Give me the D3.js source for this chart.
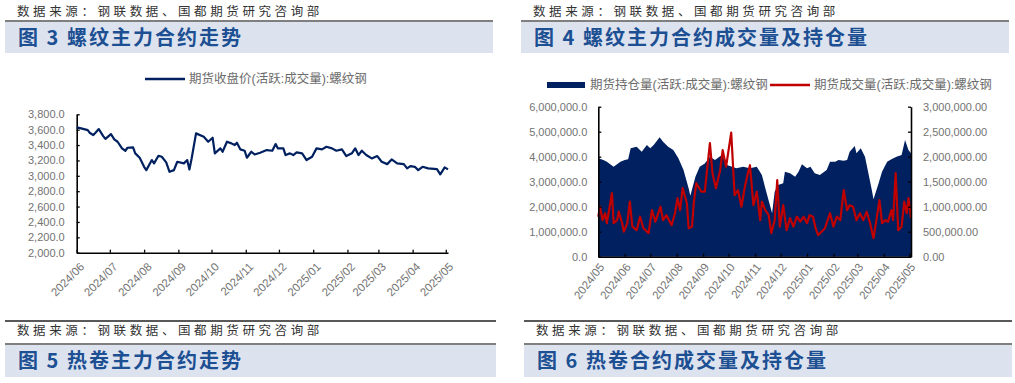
<!DOCTYPE html>
<html>
<head>
<meta charset="utf-8">
<script src="https://cdn.jsdelivr.net/npm/d3@7"></script>
<style>
body { margin: 0; background: #fff; }
svg text { font-family: "Liberation Sans", Arial, "Noto Sans CJK SC", sans-serif; }
.src { font-family: "Noto Sans CJK SC", sans-serif !important; font-size: 12.5px; letter-spacing: 3.6px; fill: #333; }
.ttl { font-family: "Noto Sans CJK SC", sans-serif !important; font-size: 20px; font-weight: 700; letter-spacing: 2px; fill: #1d4f93; }
.tick text { fill: #737373; font-size: 11px; }
.xt .tick text { font-size: 11.5px; }
.lg { fill: #6b6b6b; font-size: 12.5px; }
</style>
</head>
<body>
<div id="chart"></div>
<script>
// 螺纹钢主力合约收盘价
var rbDates = ["2024-06-01","2024-06-05","2024-06-11","2024-06-13","2024-06-16","2024-06-18","2024-06-21","2024-06-25","2024-06-27",
  "2024-07-02","2024-07-05","2024-07-08","2024-07-12","2024-07-15","2024-07-17","2024-07-22","2024-07-24","2024-07-28",
  "2024-08-01","2024-08-03","2024-08-08","2024-08-10","2024-08-14","2024-08-17","2024-08-21","2024-08-24","2024-08-28","2024-08-31",
  "2024-09-06","2024-09-09","2024-09-11","2024-09-13","2024-09-17","2024-09-24","2024-09-28",
  "2024-10-02","2024-10-04","2024-10-09","2024-10-11","2024-10-15","2024-10-19","2024-10-22","2024-10-24","2024-10-27","2024-10-31",
  "2024-11-02","2024-11-06","2024-11-09","2024-11-14","2024-11-20","2024-11-25","2024-11-28","2024-11-30",
  "2024-12-05","2024-12-07","2024-12-11","2024-12-14","2024-12-17","2024-12-22","2024-12-26","2024-12-31",
  "2025-01-04","2025-01-09","2025-01-13","2025-01-18","2025-01-22","2025-01-27","2025-01-31",
  "2025-02-05","2025-02-08","2025-02-11","2025-02-14","2025-02-18","2025-02-23","2025-02-28",
  "2025-03-04","2025-03-09","2025-03-13","2025-03-18","2025-03-24","2025-03-27","2025-03-30",
  "2025-04-03","2025-04-06","2025-04-10","2025-04-15","2025-04-23","2025-04-26","2025-04-30","2025-05-03"];
var rbClose = [3630,3617,3595,3556,3530,3560,3608,3517,3480,
  3543,3474,3443,3357,3326,3365,3370,3292,3235,
  3117,3074,3205,3162,3261,3248,3174,3052,3074,3183,
  3162,3205,3083,3226,3552,3508,3443,
  3495,3292,3357,3313,3443,3422,3400,3430,3344,3326,
  3235,3313,3278,3300,3335,3326,3413,3357,
  3357,3270,3292,3270,3305,3292,3205,3248,
  3357,3344,3378,3357,3326,3344,3257,
  3292,3357,3270,3326,3270,3226,3257,
  3183,3152,3213,3162,3152,3096,3126,
  3117,3074,3117,3096,3087,3018,3109,3083];

// 螺纹钢持仓量
var oiDates = ["2024-05-01","2024-05-07","2024-05-11","2024-05-19","2024-05-27","2024-06-01","2024-06-05","2024-06-08","2024-06-15",
  "2024-06-21","2024-06-27","2024-07-01","2024-07-05","2024-07-12","2024-07-16","2024-07-22","2024-07-28",
  "2024-08-03","2024-08-09","2024-08-15","2024-08-17","2024-08-23","2024-08-28","2024-09-03","2024-09-09","2024-09-15",
  "2024-09-23","2024-09-29","2024-10-05","2024-10-10","2024-10-18","2024-10-26","2024-11-03","2024-11-09","2024-11-13",
  "2024-11-21","2024-11-24","2024-11-28","2024-12-04","2024-12-06","2024-12-12","2024-12-18","2024-12-22","2024-12-26",
  "2025-01-01","2025-01-05","2025-01-10","2025-01-16","2025-01-24","2025-01-28","2025-02-03","2025-02-07","2025-02-13",
  "2025-02-17","2025-02-20","2025-02-26","2025-02-28","2025-03-05","2025-03-10","2025-03-14","2025-03-18","2025-03-20",
  "2025-03-26","2025-03-30","2025-04-05","2025-04-10","2025-04-16","2025-04-22","2025-04-26","2025-04-30","2025-05-03"];
var oiValues = [3940000,3870000,3800000,3600000,3800000,3870000,3900000,4340000,4400000,
  4200000,4470000,4340000,4470000,4780000,4600000,4400000,4270000,
  3940000,3470000,2740000,2440000,3200000,3600000,3730000,4000000,3870000,
  4070000,3670000,3600000,3540000,3600000,3540000,3600000,3270000,2740000,
  1740000,2600000,2870000,2940000,3400000,3340000,3200000,3400000,3700000,
  3540000,3600000,3340000,3270000,3470000,3800000,3800000,3870000,3840000,
  3870000,4200000,4430000,4140000,4340000,4000000,3340000,2670000,2300000,
  2940000,3400000,3800000,3900000,4000000,4070000,4670000,4270000,4140000];

// 螺纹钢成交量
var volDates = ["2024-05-01","2024-05-03","2024-05-06","2024-05-09","2024-05-11","2024-05-17","2024-05-19","2024-05-23","2024-05-25",
  "2024-05-29","2024-05-31","2024-06-04","2024-06-07","2024-06-10","2024-06-15","2024-06-19","2024-06-23","2024-06-29",
  "2024-07-03","2024-07-07","2024-07-13","2024-07-16","2024-07-20","2024-07-26","2024-07-30","2024-08-02","2024-08-05",
  "2024-08-08","2024-08-13","2024-08-15","2024-08-19","2024-08-21","2024-08-24","2024-08-30","2024-09-03","2024-09-05",
  "2024-09-09","2024-09-12","2024-09-16","2024-09-21","2024-09-24","2024-09-28","2024-10-04","2024-10-08","2024-10-12",
  "2024-10-16","2024-10-20","2024-10-24","2024-10-26","2024-10-30","2024-11-03","2024-11-07","2024-11-09","2024-11-13",
  "2024-11-17","2024-11-20","2024-11-24","2024-11-27","2024-11-30","2024-12-04","2024-12-08","2024-12-12","2024-12-16",
  "2024-12-20","2024-12-24","2024-12-28","2025-01-01","2025-01-04","2025-01-08","2025-01-11","2025-01-14","2025-01-22",
  "2025-01-28","2025-02-01","2025-02-05","2025-02-09","2025-02-13","2025-02-17","2025-02-20","2025-02-24","2025-02-28",
  "2025-03-04","2025-03-08","2025-03-12","2025-03-16","2025-03-20","2025-03-24","2025-03-27","2025-03-30","2025-04-03",
  "2025-04-06","2025-04-10","2025-04-12","2025-04-15","2025-04-18","2025-04-22","2025-04-25","2025-04-28","2025-04-30","2025-05-03"];
var volValues = [800000,1000000,730000,870000,670000,1270000,670000,730000,900000,
  670000,500000,670000,1100000,600000,530000,800000,570000,470000,
  930000,700000,1000000,730000,830000,630000,870000,1170000,930000,
  1370000,1070000,570000,600000,1070000,1470000,1300000,1300000,1630000,
  2270000,1670000,1370000,1730000,2130000,1800000,2480000,1230000,1330000,
  1000000,1400000,1700000,1830000,1030000,1300000,730000,1100000,930000,
  830000,470000,730000,1530000,600000,1030000,530000,770000,600000,
  800000,700000,800000,670000,830000,800000,570000,430000,570000,
  870000,600000,800000,730000,1330000,930000,1030000,1000000,730000,
  870000,730000,900000,670000,370000,800000,1130000,670000,730000,
  700000,930000,730000,1670000,530000,600000,1100000,870000,1170000,770000];

var titles = ["图 3 螺纹主力合约走势", "图 4 螺纹主力合约成交量及持仓量", "图 5 热卷主力合约走势", "图 6 热卷合约成交量及持仓量"];
var source = "数据来源：钢联数据、国都期货研究咨询部";
var leftTicks = [2000, 2200, 2400, 2600, 2800, 3000, 3200, 3400, 3600, 3800];
var oiTicks = [0, 1000000, 2000000, 3000000, 4000000, 5000000, 6000000];
var volTicks = [0, 500000, 1000000, 1500000, 2000000, 2500000, 3000000];

var parse = d3.timeParse("%Y-%m-%d");
var fmtMonth = d3.timeFormat("%Y/%m");
var navy = "#002060", red = "#c00000";

var svg = d3.select("#chart").append("svg")
    .attr("width", 1015)
    .attr("height", 383);

// 页眉：数据来源 + 标题栏
function header(x0, x1, ySrc, yLine, yBand, hBand, title) {
    svg.append("text").attr("class", "src")
        .attr("x", x0 + 12).attr("y", ySrc).attr("dy", "0.35em")
        .text(source);
    svg.append("rect")
        .attr("x", x0).attr("y", yBand).attr("width", x1 - x0).attr("height", hBand)
        .attr("fill", "#dce3ef");
    svg.append("line")
        .attr("x1", x0).attr("x2", x1).attr("y1", yLine).attr("y2", yLine)
        .attr("stroke", "#7f7f7f").attr("stroke-width", 2);
    svg.append("text").attr("class", "ttl")
        .attr("x", x0 + 13).attr("y", yBand + hBand / 2).attr("dy", "0.36em")
        .text(title);
}
header(5, 493, 12, 21, 22, 31, titles[0]);
header(521, 1009, 12, 21, 22, 31, titles[1]);
header(5, 496, 331, 344, 345, 32, titles[2]);
header(524, 1012, 331, 344, 345, 32, titles[3]);

// 分隔线
[[5, 496], [524, 1012]].forEach(function(s) {
    svg.append("line")
        .attr("x1", s[0]).attr("x2", s[1]).attr("y1", 321).attr("y2", 321)
        .attr("stroke", "#222").attr("stroke-width", 1.3);
});

function styleAxis(g) {
    g.select(".domain").attr("stroke", "#000").attr("stroke-width", 1.6);
    g.selectAll(".tick line").attr("stroke", "#000").attr("stroke-width", 1.3);
}

// ---- 图3 ----
var x1 = d3.scaleTime()
    .domain([parse("2024-06-01"), parse("2025-05-03")])
    .range([76.7, 448]);
var y1 = d3.scaleLinear().domain([2000, 3800]).range([252.7, 114.3]);

svg.append("g")
    .attr("transform", "translate(76.7,0)")
    .call(d3.axisLeft(y1).tickValues(leftTicks).tickFormat(d3.format(",.1f")).tickSizeInner(-3).tickSizeOuter(0).tickPadding(12))
    .call(styleAxis);

var gx1 = svg.append("g")
    .attr("class", "xt")
    .attr("transform", "translate(0,252.7)")
    .call(d3.axisBottom(x1).ticks(d3.timeMonth.every(1)).tickFormat(fmtMonth).tickSizeInner(-3).tickSizeOuter(0))
    .call(styleAxis);
gx1.selectAll(".tick text")
    .attr("x", 0).attr("y", 0).attr("dy", "0.35em")
    .attr("text-anchor", "end")
    .attr("transform", "translate(5,12) rotate(-45)");

var rbData = rbDates.map(function(d, i) { return {date: parse(d), v: rbClose[i]}; });
svg.append("path")
    .datum(rbData)
    .attr("fill", "none")
    .attr("stroke", navy)
    .attr("stroke-width", 2.2)
    .attr("stroke-linejoin", "round")
    .attr("d", d3.line().x(function(d) { return x1(d.date); }).y(function(d) { return y1(d.v); }));

// 图例
svg.append("line").attr("x1", 145).attr("x2", 185).attr("y1", 79).attr("y2", 79)
    .attr("stroke", navy).attr("stroke-width", 2.5);
svg.append("text").attr("class", "lg").attr("x", 189).attr("y", 79).attr("dy", "0.35em")
    .text("期货收盘价(活跃:成交量):螺纹钢");

// ---- 图4 ----
var x2 = d3.scaleTime()
    .domain([parse("2024-05-01"), parse("2025-05-03")])
    .range([598.3, 911]);
var yL = d3.scaleLinear().domain([0, 6000000]).range([256.7, 106.7]);
var yR = d3.scaleLinear().domain([0, 3000000]).range([256.7, 106.7]);

var oiData = oiDates.map(function(d, i) { return {date: parse(d), v: oiValues[i]}; });
svg.append("path")
    .datum(oiData)
    .attr("fill", navy)
    .attr("d", d3.area().x(function(d) { return x2(d.date); }).y0(yL(0)).y1(function(d) { return yL(d.v); }));

var volData = volDates.map(function(d, i) { return {date: parse(d), v: volValues[i]}; });
svg.append("path")
    .datum(volData)
    .attr("fill", "none")
    .attr("stroke", red)
    .attr("stroke-width", 2.2)
    .attr("stroke-linejoin", "round")
    .attr("d", d3.line().x(function(d) { return x2(d.date); }).y(function(d) { return yR(d.v); }));

svg.append("g")
    .attr("transform", "translate(598.3,0)")
    .call(d3.axisLeft(yL).tickValues(oiTicks).tickFormat(d3.format(",.1f")).tickSizeInner(-3).tickSizeOuter(0).tickPadding(11))
    .call(styleAxis);
svg.append("g")
    .attr("transform", "translate(911,0)")
    .call(d3.axisRight(yR).tickValues(volTicks).tickFormat(d3.format(",.2f")).tickSizeInner(-3).tickSizeOuter(0).tickPadding(12))
    .call(styleAxis);

var gx2 = svg.append("g")
    .attr("class", "xt")
    .attr("transform", "translate(0,256.7)")
    .call(d3.axisBottom(x2).ticks(d3.timeMonth.every(1)).tickFormat(fmtMonth).tickSizeInner(-3).tickSizeOuter(0))
    .call(styleAxis);
gx2.selectAll(".tick text")
    .attr("x", 0).attr("y", 0).attr("dy", "0.35em")
    .attr("text-anchor", "end")
    .attr("transform", "translate(3,8) rotate(-52)");

// 图例
svg.append("rect").attr("x", 547).attr("y", 82).attr("width", 38).attr("height", 6).attr("fill", navy);
svg.append("text").attr("class", "lg").attr("x", 590).attr("y", 85).attr("dy", "0.35em")
    .text("期货持仓量(活跃:成交量):螺纹钢");
svg.append("line").attr("x1", 770).attr("x2", 810).attr("y1", 85).attr("y2", 85)
    .attr("stroke", red).attr("stroke-width", 2.5);
svg.append("text").attr("class", "lg").attr("x", 814).attr("y", 85).attr("dy", "0.35em")
    .text("期货成交量(活跃:成交量):螺纹钢");
</script>
</body>
</html>
